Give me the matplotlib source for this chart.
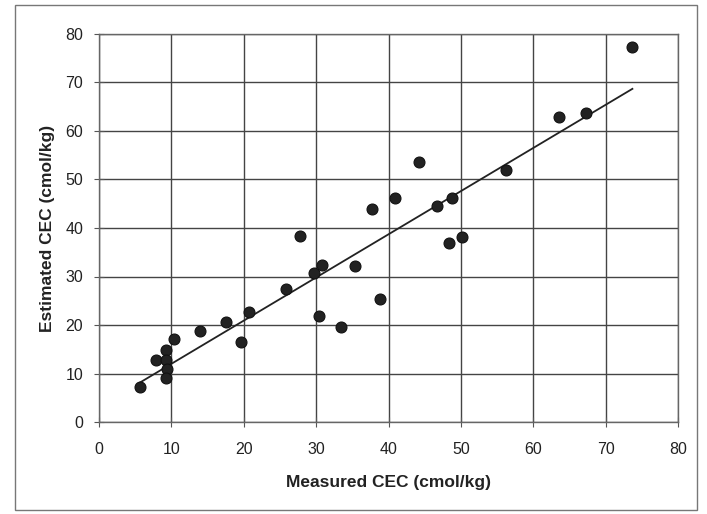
import matplotlib
matplotlib.use("Agg")
import matplotlib.pyplot as plt
from matplotlib.patches import Rectangle
import numpy as np

measured = [5.6, 7.9, 9.3, 9.2, 9.4, 9.3, 10.4, 14.0, 17.6, 19.6, 20.7,
            25.9, 27.8, 29.7, 30.4, 30.8, 33.4, 35.4, 37.7, 38.8, 40.9,
            44.2, 46.7, 48.3, 48.8, 50.2, 56.3, 63.6, 67.3, 73.7]
estimated = [7.3, 12.8, 14.8, 12.8, 10.9, 9.0, 17.1, 18.8, 20.6, 16.4, 22.6,
             27.4, 38.4, 30.7, 21.9, 32.4, 19.5, 32.2, 43.9, 25.3, 46.2,
             53.6, 44.5, 37.0, 46.2, 38.1, 52.0, 62.9, 63.8, 77.4]
fit_slope = 0.89
fit_intercept = 3.1
x_ticks = [0, 10, 20, 30, 40, 50, 60, 70, 80]
y_ticks = [0, 10, 20, 30, 40, 50, 60, 70, 80]

plt.rcParams['font.family'] = ['Liberation Sans', 'DejaVu Sans']

fig = plt.figure(figsize=(7.07, 5.14), dpi=100)
fig.patch.set_facecolor('white')
fig.add_artist(Rectangle((15/707, 1-510/514), (697-15)/707, (510-5)/514,
                         transform=fig.transFigure, fill=False,
                         edgecolor='#777777', linewidth=1.0))

ax = fig.add_axes([99/707, 1-422/514, (678-99)/707, (422-34)/514])
ax.set_xlim(0, 80)
ax.set_ylim(0, 80)
ax.set_xticks(x_ticks)
ax.set_yticks(y_ticks)
ax.grid(True, color='#444444', linewidth=1.0)
ax.set_axisbelow(True)
for s in ax.spines.values():
    s.set_color('#666666')
    s.set_linewidth(1.0)
ax.tick_params(direction='inout', length=7, color='#555555', labelsize=11.5,
               labelcolor='#222222')
ax.tick_params(axis='x', pad=11)
ax.tick_params(axis='y', pad=8)

xs = np.array([min(measured), max(measured)])
ax.plot(xs, fit_slope * xs + fit_intercept, color='#222222', linewidth=1.3, zorder=3)
ax.scatter(measured, estimated, s=62, color='#222222', edgecolors='#111111',
           linewidths=0.8, zorder=4, clip_on=False)

ax.set_xlabel('Measured CEC (cmol/kg)', fontsize=12.5, fontweight='bold',
              color='#222222', labelpad=13)
ax.set_ylabel('Estimated CEC (cmol/kg)', fontsize=12.5, fontweight='bold',
              color='#222222', labelpad=7)

fig.savefig('out.png', dpi=100)
